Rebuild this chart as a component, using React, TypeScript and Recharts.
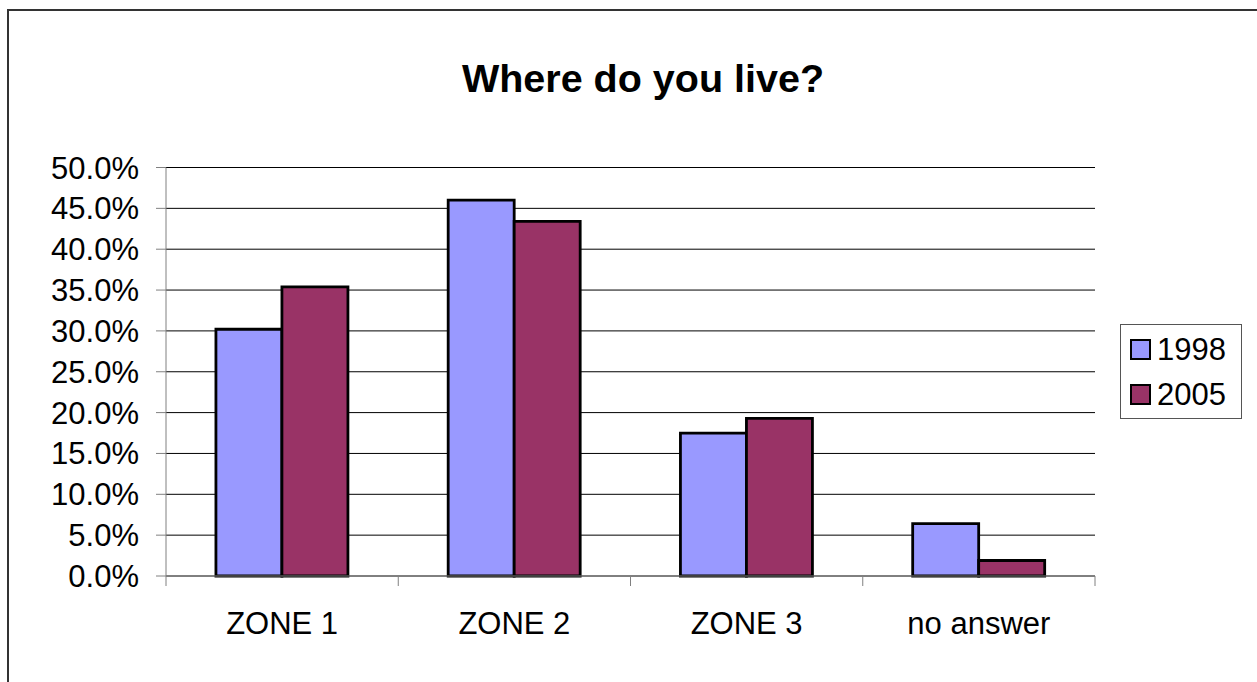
import { BarChart, Bar, XAxis, YAxis, CartesianGrid, Legend } from 'recharts';

const zones = ['ZONE 1', 'ZONE 2', 'ZONE 3', 'no answer'];
const share1998 = [30.2, 46.0, 17.5, 6.4];
const share2005 = [35.4, 43.4, 19.3, 1.9];
const percentTicks = [0, 5, 10, 15, 20, 25, 30, 35, 40, 45, 50];

const series = [
    { key: 'y1998', name: '1998', color: '#9999ff' },
    { key: 'y2005', name: '2005', color: '#993366' },
];

const FONT = '"Liberation Sans", Arial, sans-serif';
const X_TICK_MARGIN = 36;

const data = zones.map((zone, i) => ({ zone, y1998: share1998[i], y2005: share2005[i] }));

function ZoneTick(props: any) {
    const { x, y, payload, index } = props;
    const half = payload.offset ?? 0;
    const axisY = y - X_TICK_MARGIN;
    const isLast = index === zones.length - 1;
    return (
        <g>
            <line x1={x - half} x2={x - half} y1={axisY} y2={axisY + 10} stroke="#808080" />
            {isLast && <line x1={x + half} x2={x + half} y1={axisY} y2={axisY + 10} stroke="#808080" />}
            <text x={x} y={y} dy="0.71em" textAnchor="middle" fill="#000" fontSize={31} fontFamily={FONT}>
                {payload.value}
            </text>
        </g>
    );
}

function BoxLegend() {
    return (
        <div
            style={{
                boxSizing: 'border-box',
                width: 122,
                height: 95,
                border: '1px solid #555',
                background: '#fff',
                display: 'flex',
                flexDirection: 'column',
                justifyContent: 'center',
                paddingLeft: 9,
            }}
        >
            {series.map(s => (
                <div key={s.key} style={{ display: 'flex', alignItems: 'center', height: 45 }}>
                    <span
                        style={{
                            boxSizing: 'border-box',
                            width: 21,
                            height: 21,
                            border: '2px solid #000',
                            background: s.color,
                            display: 'inline-block',
                        }}
                    />
                    <span style={{ marginLeft: 6, fontSize: 31, fontFamily: FONT, color: '#000', lineHeight: '45px' }}>
                        {s.name}
                    </span>
                </div>
            ))}
        </div>
    );
}

export default function App() {
    return (
        <div style={{ position: 'absolute', left: 0, top: 0, width: 1257, height: 682, overflow: 'hidden', background: '#fff' }}>
            <div
                style={{
                    position: 'absolute',
                    left: 7,
                    top: 9,
                    width: 1300,
                    height: 700,
                    border: '2px solid #333',
                }}
            />
            <div
                style={{
                    position: 'absolute',
                    left: 443,
                    top: 56.3,
                    width: 400,
                    textAlign: 'center',
                    fontFamily: FONT,
                    fontWeight: 'bold',
                    fontSize: 39.5,
                    color: '#000',
                    whiteSpace: 'nowrap',
                }}
            >
                Where do you live?
            </div>
            <div style={{ position: 'absolute', left: 0, top: 0 }}>
                <BarChart
                    width={1257}
                    height={682}
                    data={data}
                    margin={{ top: 167.5, right: 162, bottom: 76, left: 0 }}
                    barCategoryGap="21.5%"
                    barGap={0}
                >
                    <CartesianGrid vertical={false} stroke="#000" />
                    <XAxis
                        dataKey="zone"
                        height={30}
                        tickSize={0}
                        tickMargin={X_TICK_MARGIN}
                        tickLine={false}
                        axisLine={{ stroke: '#808080' }}
                        tick={<ZoneTick />}
                        interval={0}
                    />
                    <YAxis
                        width={166}
                        domain={[0, 50]}
                        ticks={percentTicks}
                        interval={0}
                        tickFormatter={(v: number) => `${v.toFixed(1)}%`}
                        tickSize={10}
                        tickMargin={17}
                        axisLine={{ stroke: '#808080' }}
                        tickLine={{ stroke: '#808080' }}
                        tick={{ fill: '#000', fontSize: 31, fontFamily: FONT }}
                    />
                    <Legend
                        layout="vertical"
                        align="center"
                        verticalAlign="middle"
                        content={() => <BoxLegend />}
                        wrapperStyle={{ left: 1120, top: 324, width: 122, height: 95 }}
                    />
                    {series.map(s => (
                        <Bar
                            key={s.key}
                            dataKey={s.key}
                            name={s.name}
                            fill={s.color}
                            stroke="#000"
                            strokeWidth={2.8}
                            isAnimationActive={false}
                        />
                    ))}
                </BarChart>
            </div>
        </div>
    );
}
